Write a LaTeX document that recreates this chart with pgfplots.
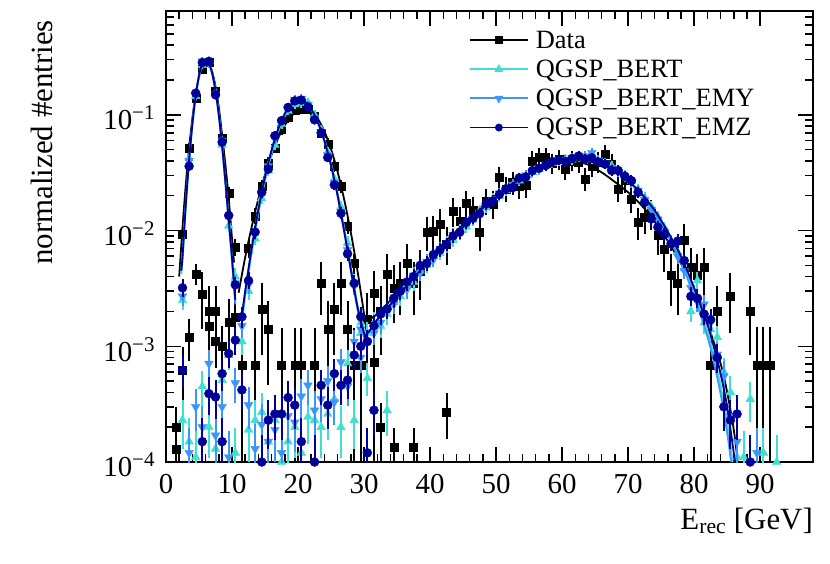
\documentclass[border=0pt]{standalone}
\usepackage{pgfplots}
\pgfplotsset{compat=1.18}
\usepackage{pgfplotstable}
\usepackage{fontspec}
\setmainfont{Liberation Serif}
\definecolor{cQB}{RGB}{64,224,208}
\definecolor{cEMY}{RGB}{60,150,250}
\definecolor{cEMZ}{RGB}{0,0,153}
\newcommand{\ex}[1]{10\raisebox{10bp}{\fontsize{21}{21}\selectfont −#1}}

\pgfplotstableread{
x y e
1.5 2.0e-4 0.8e-4
1.5 1.3e-4 0.6e-4
2.5 0.0093 0.0007
2.5 6.2e-4 3.0e-4
3.5 0.051 0.0018
3.5 0.0012 0.0004
4.5 0.14 0.003
4.5 0.0042 0.0006
5.5 0.25 0.004
5.5 0.0028 0.0013
6.5 0.285 0.0045
6.5 0.0020 0.0011
6.5 0.0015 0.0008
7.5 0.16 0.003
7.5 0.0020 0.0011
7.5 0.0011 0.0004
8.5 0.063 0.002
8.5 0.0010 0.0004
9.5 0.021 0.0012
9.5 0.0016 0.0008
10.5 0.0072 0.0007
10.5 0.0018 0.0009
11.5 6.8e-4 6.7e-4
12.5 0.0070 0.0008
13.5 0.0134 0.0011
13.5 6.8e-4 6.7e-4
14.5 0.024 0.0015
14.5 0.0021 0.0012
15.5 0.038 0.002
15.5 0.0014 0.0009
16.5 0.052 0.0023
17.5 0.075 0.0027
17.5 6.8e-4 6.7e-4
18.5 0.095 0.003
19.5 0.110 0.0033
19.5 6.8e-4 6.7e-4
20.5 0.113 0.0033
20.5 6.8e-4 6.7e-4
21.5 0.112 0.0033
22.5 0.098 0.0031
22.5 6.8e-4 6.7e-4
23.5 0.070 0.0026
23.5 0.0035 0.0015
24.5 0.056 0.0023
24.5 0.0014 0.0009
25.5 0.036 0.0019
25.5 0.0021 0.0012
26.5 0.024 0.0015
26.5 0.0035 0.0015
27.5 0.011 0.001
27.5 0.0014 0.0009
28.5 0.0052 0.0007
28.5 6.8e-4 6.7e-4
29.5 6.8e-4 6.7e-4
30.5 0.0017 0.0010
31.5 0.0029 0.0013
31.5 7.3e-4 7.2e-4
32.5 0.0020 0.0011
32.5 2.0e-4 1.0e-4
33.5 0.0042 0.0017
34.5 0.0032 0.0015
34.5 1.35e-4 0.5e-4
35.5 0.0035 0.0015
36.5 0.0052 0.0019
37.5 0.0035 0.0015
37.5 1.35e-4 0.5e-4
38.5 0.0045 0.0018
39.5 0.0097 0.0026
40.5 0.0099 0.0026
41.5 0.0114 0.0028
42.5 0.0077 0.0023
42.5 2.7e-4 1.0e-4
43.5 0.0148 0.0032
44.5 0.0120 0.0029
45.5 0.0173 0.0034
46.5 0.0150 0.0032
47.5 0.0097 0.0026
48.5 0.0180 0.0035
49.5 0.0170 0.0034
50.5 0.0288 0.0044
51.5 0.0230 0.0040
52.5 0.0260 0.0042
53.5 0.0240 0.0040
54.5 0.0245 0.0041
55.5 0.040 0.0052
56.5 0.043 0.0054
57.5 0.043 0.0054
58.5 0.038 0.0051
59.5 0.041 0.0053
60.5 0.034 0.0048
61.5 0.040 0.0052
62.5 0.039 0.0052
63.5 0.028 0.0044
64.5 0.036 0.0050
65.5 0.039 0.0052
66.5 0.046 0.0056
67.5 0.0376 0.0051
68.5 0.023 0.0040
69.5 0.027 0.0043
70.5 0.0188 0.0036
71.5 0.0117 0.0028
72.5 0.013 0.0030
73.5 0.014 0.0031
74.5 0.0091 0.0025
75.5 0.0069 0.0022
76.5 0.0041 0.0017
77.5 0.0035 0.0015
78.5 0.0082 0.0024
79.5 0.0048 0.0018
80.5 0.0041 0.0017
81.5 0.0048 0.0018
82.5 6.9e-4 6.8e-4
83.5 0.0020 0.0011
85.5 0.0027 0.0013
88.5 0.0020 0.0011
89.5 6.9e-4 6.8e-4
90.5 6.9e-4 6.8e-4
91.5 6.9e-4 6.8e-4
}\tData

\pgfplotstableread{
x y e
2.5 0.0025 0.0003
3.5 0.042 0.0012
4.5 0.145 0.0023
5.5 0.27 0.003
6.5 0.29 0.003
7.5 0.155 0.0023
8.5 0.055 0.0014
9.5 0.011 0.0006
10.5 0.0040 0.0004
2.5 2.3e-4 0.9e-4
3.5 1.5e-4 0.72e-4
4.5 1.1e-4 0.62e-4
5.5 4.5e-4 1.25e-4
6.5 2.0e-4 0.84e-4
7.5 1.3e-4 0.67e-4
8.5 5.1e-4 1.3e-4
9.5 8.4e-4 1.7e-4
10.5 1.2e-4 0.65e-4
12.5 1.9e-4 0.82e-4
13.5 2.3e-4 0.9e-4
14.5 2.7e-4 0.97e-4
15.5 1.5e-4 0.72e-4
16.5 2.3e-4 0.9e-4
17.5 1.0e-4 0.6e-4
18.5 1.5e-4 0.72e-4
19.5 2.0e-4 0.84e-4
20.5 1.2e-4 0.65e-4
21.5 2.45e-4 0.93e-4
22.5 2.3e-4 0.9e-4
23.5 2.0e-4 0.84e-4
24.5 2.6e-4 0.95e-4
25.5 3.5e-4 1.1e-4
26.5 2.0e-4 0.84e-4
27.5 7.1e-4 1.6e-4
28.5 2.3e-4 0.9e-4
29.5 1.3e-3 2.1e-4
30.5 5.3e-4 1.35e-4
33.5 2.8e-4 1.0e-4
11.5 0.0011 0.0002
12.5 0.0030 0.0003
13.5 0.0085 0.0005
14.5 0.019 0.0008
15.5 0.033 0.0011
16.5 0.055 0.0014
17.5 0.083 0.0017
18.5 0.108 0.0019
19.5 0.123 0.0021
20.5 0.126 0.0021
21.5 0.128 0.0021
22.5 0.100 0.0019
23.5 0.074 0.0016
24.5 0.048 0.0013
25.5 0.028 0.001
26.5 0.016 0.00075
27.5 0.0078 0.00052
28.5 0.0036 0.00035
29.5 0.0016 0.00024
30.5 0.0013 0.00021
31.5 0.0016 0.00024
32.5 0.0015 0.00023
33.5 0.0019 0.00026
34.5 0.0024 0.00029
35.5 0.0027 0.00031
36.5 0.0034 0.00034
37.5 0.0036 0.00035
38.5 0.0045 0.0004
39.5 0.0050 0.00042
40.5 0.0060 0.00046
41.5 0.0064 0.00047
42.5 0.0079 0.00053
43.5 0.0083 0.00054
44.5 0.0100 0.00059
45.5 0.0108 0.00061
46.5 0.0124 0.00066
47.5 0.0148 0.00072
48.5 0.0158 0.00074
49.5 0.0188 0.00081
50.5 0.0198 0.00083
51.5 0.0222 0.00088
52.5 0.0245 0.00093
53.5 0.0270 0.00097
54.5 0.0292 0.001
55.5 0.0318 0.00105
56.5 0.0338 0.00109
57.5 0.0360 0.00112
58.5 0.0382 0.00116
59.5 0.0398 0.00118
60.5 0.0412 0.0012
61.5 0.0410 0.0012
62.5 0.0428 0.00122
63.5 0.0421 0.00121
64.5 0.0412 0.0012
65.5 0.0398 0.00118
66.5 0.0382 0.00116
67.5 0.0362 0.00113
68.5 0.0328 0.00107
69.5 0.0302 0.00103
70.5 0.0268 0.00097
71.5 0.0228 0.00089
72.5 0.0192 0.00082
73.5 0.0162 0.00075
74.5 0.0132 0.00068
75.5 0.0105 0.00061
76.5 0.0080 0.00053
77.5 0.0065 0.00048
78.5 0.0047 0.00041
79.5 0.0020 0.00026
80.5 0.0037 0.00036
81.5 0.0016 0.00024
82.5 0.0014 0.00022
83.5 0.0012 0.0002
84.5 6.0e-4 1.45e-4
85.5 4.0e-4 1.2e-4
86.5 1.1e-4 0.62e-4
87.5 1.1e-4 0.62e-4
88.5 3.5e-4 1.1e-4
90.5 1.2e-4 0.65e-4
92.5 1.0e-4 0.6e-4
}\tQB

\pgfplotstableread{
x y e
2.5 0.0027 0.0003
3.5 0.040 0.0012
4.5 0.150 0.0023
5.5 0.29 0.0032
6.5 0.28 0.0031
7.5 0.150 0.0023
8.5 0.060 0.0014
9.5 0.013 0.0007
10.5 0.0035 0.00035
3.5 1.2e-4 0.65e-4
4.5 3.0e-4 1.0e-4
5.5 2.0e-4 0.84e-4
6.5 7.1e-4 1.6e-4
7.5 1.7e-4 0.77e-4
8.5 3.0e-4 1.0e-4
9.5 1.1e-4 0.62e-4
10.5 4.8e-4 1.3e-4
12.5 3.1e-4 1.04e-4
13.5 1.3e-4 0.67e-4
14.5 2.1e-4 0.86e-4
15.5 1.5e-4 0.72e-4
16.5 1.9e-4 0.82e-4
17.5 1.2e-4 0.65e-4
18.5 2.5e-4 0.94e-4
19.5 2.2e-4 0.88e-4
20.5 3.7e-4 1.14e-4
21.5 4.6e-4 1.27e-4
22.5 2.8e-4 1.0e-4
23.5 3.5e-4 1.1e-4
24.5 5.0e-4 1.3e-4
25.5 3.3e-4 1.07e-4
26.5 7.3e-4 1.6e-4
27.5 4.5e-4 1.25e-4
28.5 1.1e-3 1.96e-4
29.5 8.0e-4 1.7e-4
11.5 0.0015 0.00023
12.5 0.0034 0.00034
13.5 0.0095 0.00058
14.5 0.021 0.00086
15.5 0.036 0.0011
16.5 0.062 0.0015
17.5 0.087 0.0017
18.5 0.113 0.002
19.5 0.135 0.0022
20.5 0.138 0.0022
21.5 0.122 0.0021
22.5 0.094 0.0018
23.5 0.071 0.0016
24.5 0.045 0.0013
25.5 0.026 0.00095
26.5 0.0145 0.00071
27.5 0.0068 0.00049
28.5 0.0033 0.00034
29.5 0.0014 0.00022
30.5 0.0011 0.0002
31.5 0.0013 0.00021
32.5 0.0016 0.00024
33.5 0.0021 0.00027
34.5 0.0023 0.00028
35.5 0.0029 0.00032
36.5 0.0031 0.00033
37.5 0.0041 0.00038
38.5 0.0043 0.00039
39.5 0.0054 0.00043
40.5 0.0056 0.00044
41.5 0.0070 0.0005
42.5 0.0074 0.00051
43.5 0.0092 0.00057
44.5 0.0095 0.00058
45.5 0.0115 0.00063
46.5 0.0126 0.00066
47.5 0.0142 0.0007
48.5 0.0163 0.00076
49.5 0.0182 0.0008
50.5 0.0210 0.00086
51.5 0.0225 0.00089
52.5 0.0250 0.00094
53.5 0.0278 0.00099
54.5 0.0300 0.001
55.5 0.0325 0.00107
56.5 0.0350 0.00111
57.5 0.0372 0.00114
58.5 0.0390 0.00117
59.5 0.0410 0.0012
60.5 0.0405 0.00119
61.5 0.0425 0.00122
62.5 0.0435 0.00123
63.5 0.0440 0.00124
64.5 0.0470 0.00128
65.5 0.0405 0.00119
66.5 0.0380 0.00115
67.5 0.0350 0.00111
68.5 0.0320 0.00106
69.5 0.0290 0.00101
70.5 0.0262 0.00096
71.5 0.0220 0.00088
72.5 0.0185 0.0008
73.5 0.0152 0.00073
74.5 0.0125 0.00066
75.5 0.0098 0.00059
76.5 0.0078 0.00052
77.5 0.0060 0.00046
78.5 0.0045 0.0004
79.5 0.0032 0.00033
80.5 0.0024 0.00029
81.5 0.0023 0.00028
82.5 0.0016 0.00024
83.5 8.5e-4 1.7e-4
84.5 5.5e-4 1.4e-4
85.5 2.5e-4 0.94e-4
86.5 1.5e-4 0.72e-4
89.5 1.2e-4 0.65e-4
}\tEMY

\pgfplotstableread{
x y e
2.5 0.0032 0.00033
3.5 0.036 0.0011
4.5 0.154 0.0023
5.5 0.283 0.0031
6.5 0.29 0.0032
7.5 0.149 0.0023
8.5 0.058 0.0014
9.5 0.0135 0.0007
10.5 0.0034 0.00034
2.5 6.2e-4 1.5e-4
5.5 1.5e-4 0.72e-4
6.5 3.9e-4 1.17e-4
7.5 3.65e-4 1.13e-4
8.5 5.8e-4 1.4e-4
8.5 1.5e-4 0.72e-4
9.5 8.65e-4 1.74e-4
10.5 1.13e-3 2.0e-4
11.5 4.2e-4 1.2e-4
14.5 1.0e-4 0.6e-4
15.5 2.3e-4 0.9e-4
16.5 2.6e-4 0.95e-4
17.5 2.6e-4 0.95e-4
18.5 3.6e-4 1.12e-4
19.5 3.1e-4 1.04e-4
20.5 1.5e-4 0.72e-4
22.5 1.0e-4 0.6e-4
23.5 4.6e-4 1.27e-4
24.5 3.1e-4 1.04e-4
25.5 5.8e-4 1.4e-4
26.5 4.6e-4 1.27e-4
27.5 5.1e-4 1.34e-4
28.5 8.4e-4 1.7e-4
29.5 1.0e-3 1.9e-4
30.5 1.2e-4 0.65e-4
31.5 2.8e-4 1.0e-4
11.5 0.0018 0.00025
12.5 0.0037 0.00036
13.5 0.0097 0.00058
14.5 0.0214 0.00087
15.5 0.034 0.0011
16.5 0.066 0.0015
17.5 0.089 0.0018
18.5 0.116 0.002
19.5 0.132 0.0021
20.5 0.134 0.0022
21.5 0.117 0.002
22.5 0.0905 0.0018
23.5 0.070 0.0016
24.5 0.0428 0.0012
25.5 0.0248 0.00093
26.5 0.0141 0.0007
27.5 0.0063 0.00047
28.5 0.0035 0.00035
29.5 0.0018 0.00025
30.5 0.0011 0.0002
31.5 0.0015 0.00023
32.5 0.0019 0.00026
33.5 0.0021 0.00027
34.5 0.0026 0.0003
35.5 0.0030 0.00032
36.5 0.0036 0.00035
37.5 0.0040 0.00037
38.5 0.0050 0.00042
39.5 0.0052 0.00043
40.5 0.0062 0.00047
41.5 0.0068 0.00049
42.5 0.0076 0.00052
43.5 0.0090 0.00056
44.5 0.0097 0.00058
45.5 0.0118 0.00064
46.5 0.0128 0.00067
47.5 0.0140 0.0007
48.5 0.0170 0.00077
49.5 0.0180 0.00079
50.5 0.0205 0.00085
51.5 0.0230 0.0009
52.5 0.0235 0.00091
53.5 0.0285 0.001
54.5 0.0290 0.001
55.5 0.0330 0.00107
56.5 0.0345 0.0011
57.5 0.0365 0.00113
58.5 0.0395 0.00118
59.5 0.0405 0.00119
60.5 0.0395 0.00118
61.5 0.0420 0.00121
62.5 0.0440 0.00124
63.5 0.0415 0.0012
64.5 0.0425 0.00122
65.5 0.0390 0.00117
66.5 0.0375 0.00115
67.5 0.0330 0.00107
68.5 0.0330 0.00107
69.5 0.0295 0.00102
70.5 0.0270 0.00097
71.5 0.0214 0.00087
72.5 0.0175 0.00078
73.5 0.0126 0.00066
74.5 0.0107 0.00061
75.5 0.0093 0.00057
76.5 0.0077 0.00052
77.5 0.0081 0.00053
78.5 0.0055 0.00044
79.5 0.0027 0.00031
80.5 0.0026 0.0003
81.5 0.0019 0.00026
82.5 0.0017 0.00024
83.5 8.0e-4 1.7e-4
84.5 3.0e-4 1.0e-4
85.5 2.3e-4 0.9e-4
86.5 2.6e-4 0.95e-4
88.5 1.0e-4 0.6e-4
}\tEMZ

\pgfplotsset{
  pts/.style={only marks, forget plot,
    error bars/y dir=both, error bars/y explicit,
    error bars/error bar style={line width=2bp, solid},
    error bars/error mark options={line width=2bp, mark size=3.5bp}},
  fit/.style={line width=1.8bp, smooth, tension=0.5, no marks, forget plot},
}

\begin{document}
\begin{tikzpicture}
\path[use as bounding box] (0,0) rectangle (830bp,564bp);
\begin{axis}[
  at={(166bp,102bp)}, anchor=south west,
  scale only axis, width=647bp, height=451bp,
  xmin=0, xmax=98, ymode=log, ymin=1e-4, ymax=0.79,
  clip mode=individual,
  xtick={0,10,...,90}, minor x tick num=4,
  ytick={1e-4,1e-3,1e-2,1e-1},
  yticklabels={\ex{4},\ex{3},\ex{2},\ex{1}},
  minor ytick={2e-4,3e-4,4e-4,5e-4,6e-4,7e-4,8e-4,9e-4,2e-3,3e-3,4e-3,5e-3,6e-3,7e-3,8e-3,9e-3,2e-2,3e-2,4e-2,5e-2,6e-2,7e-2,8e-2,9e-2,0.2,0.3,0.4,0.5,0.6,0.7},
  tick pos=both, tick align=inside,
  major tick length=15bp, minor tick length=8bp,
  every tick/.style={black, line width=1.5bp},
  axis line style={line width=2bp},
  /pgf/number format/assume math mode=true,
  xticklabel style={font=\fontsize{29}{31}\selectfont, yshift=-9bp},
  yticklabel style={font=\fontsize{29}{31}\selectfont, xshift=-8bp, yshift=-3bp},
  xlabel={E\textsubscript{rec} [GeV]},
  xlabel style={font=\fontsize{31}{33}\selectfont, at={(axis description cs:1,0)}, anchor=north east, inner sep=0pt, yshift=-46bp},
  ylabel={normalized \#entries},
  ylabel style={font=\fontsize{31}{33}\selectfont, at={(axis description cs:-0.192,0.98)}, anchor=east, inner sep=0pt},
  legend style={draw=none, fill=none, at={(axis description cs:0.468,0.961)}, anchor=north west,
    font=\fontsize{26.5}{28}\selectfont, row sep=6.2bp, inner sep=0pt},
  legend cell align=left,
  legend image code/.code={\path[draw=none, fill=none] (0bp,0bp) -- (64bp,0bp);\draw[#1, mark indices={2}] plot coordinates {(0bp,0bp) (29bp,0bp) (58bp,0bp)};},
]
\addlegendimage{black, line width=1.8bp, mark=square*, mark size=2.8bp}
\addlegendentry{Data}
\addlegendimage{cQB, line width=1.8bp, mark=triangle*, mark size=3.3bp}
\addlegendentry{QGSP\_BERT}
\addlegendimage{cEMY, line width=1.8bp, mark=triangle*, mark size=3.3bp, mark options={rotate=180}}
\addlegendentry{QGSP\_BERT\_EMY}
\addlegendimage{cEMZ, line width=1.8bp, mark=*, mark size=3bp}
\addlegendentry{QGSP\_BERT\_EMZ}

% Data
\addplot[pts, black, mark=square*, mark size=4bp] table[x=x, y=y, y error=e] {\tData};
\addplot[fit, black] coordinates {(2.0,0.0040)(2.5,0.0106)(3,0.025)(3.5,0.0517)(4,0.094)(4.5,0.151)(5,0.213)(5.5,0.265)(6,0.289)(6.5,0.278)(7,0.236)(7.5,0.176)(8,0.1155)(8.5,0.067)(9,0.037)(9.5,0.019)(10,0.0085)(10.3,0.0053)};
\addplot[fit, black] coordinates {(11,0.0029)(12,0.0059)(13,0.0109)(14,0.0189)(15,0.0304)(16,0.0454)(17,0.063)(18,0.0814)(19,0.0977)(20,0.109)(21,0.113)(22,0.1075)(23,0.0924)(24,0.0718)(25,0.0505)(26,0.0321)(27,0.0184)(28,0.0096)(29,0.0045)(30,0.0019)(30.5,0.0012)};
\addplot[fit, black] coordinates {(30,0.0016)(32,0.0019)(34,0.0025)(36,0.0034)(38,0.0045)(40,0.0059)(42,0.0077)(44,0.0099)(46,0.0129)(48,0.0164)(50,0.0203)(52,0.0245)(54,0.0290)(56,0.0332)(58,0.0372)(60,0.0395)(62,0.0395)(64,0.0370)(66,0.0318)(68,0.0263)(70,0.0214)(72,0.0166)(74,0.0120)(76,0.0081)(78,0.0052)(80,0.0030)(82,0.00158)(84,0.00071)(85,0.00040)(86,0.00019)(86.6,0.0001)};

% QGSP_BERT
\addplot[pts, cQB, mark=triangle*, mark size=5bp] table[x=x, y=y, y error=e] {\tQB};
\addplot[fit, cQB] coordinates {(2.3,0.0042)(2.5,0.0055)(3,0.016)(3.5,0.039)(4,0.081)(4.5,0.142)(5,0.212)(5.5,0.272)(6,0.297)(6.5,0.282)(7,0.232)(7.5,0.166)(8,0.103)(8.5,0.056)(9,0.027)(9.5,0.0125)(10,0.0056)(10.5,0.0024)};
\addplot[fit, cQB] coordinates {(11.5,0.0016)(12,0.0027)(13,0.0065)(14,0.0140)(15,0.0270)(16,0.0465)(17,0.0715)(18,0.0975)(19,0.118)(20,0.128)(21,0.1265)(22,0.111)(23,0.087)(24,0.061)(25,0.038)(26,0.0212)(27,0.0105)(28,0.0049)(29,0.0023)(30,0.00135)(30.5,0.0011)};
\addplot[fit, cQB] coordinates {(30,0.0012)(31,0.0014)(32,0.0017)(34,0.0023)(36,0.0031)(38,0.0042)(40,0.0056)(42,0.0073)(44,0.0094)(46,0.0122)(48,0.0157)(50,0.0196)(52,0.0240)(54,0.0287)(56,0.0335)(58,0.0378)(60,0.0408)(62,0.0424)(64,0.0418)(66,0.0385)(68,0.0333)(70,0.0270)(72,0.0207)(74,0.0145)(76,0.0093)(78,0.0055)(80,0.0029)(82,0.00135)(83,0.00082)(84,0.00046)(85,0.00022)(85.8,0.0001)};

% QGSP_BERT_EMY
\addplot[pts, cEMY, mark=triangle*, mark size=5bp, mark options={rotate=180}] table[x=x, y=y, y error=e] {\tEMY};
\addplot[fit, cEMY] coordinates {(2.3,0.0048)(2.5,0.0062)(3,0.0175)(3.5,0.042)(4,0.086)(4.5,0.150)(5,0.222)(5.5,0.280)(6,0.301)(6.5,0.279)(7,0.225)(7.5,0.158)(8,0.097)(8.5,0.052)(9,0.025)(9.5,0.0118)(10,0.0054)(10.5,0.0023)};
\addplot[fit, cEMY] coordinates {(11.5,0.0018)(12,0.0030)(13,0.0072)(14,0.0155)(15,0.0295)(16,0.0500)(17,0.076)(18,0.1025)(19,0.124)(20,0.134)(21,0.129)(22,0.111)(23,0.0855)(24,0.0588)(25,0.0362)(26,0.0198)(27,0.0097)(28,0.0045)(29,0.0021)(30,0.0012)(30.5,0.0010)};
\addplot[fit, cEMY] coordinates {(30,0.0012)(31,0.0014)(32,0.0017)(34,0.0023)(36,0.0031)(38,0.0042)(40,0.0056)(42,0.0073)(44,0.0094)(46,0.0122)(48,0.0157)(50,0.0196)(52,0.0240)(54,0.0287)(56,0.0335)(58,0.0378)(60,0.0408)(62,0.0424)(64,0.0418)(66,0.0385)(68,0.0333)(70,0.0268)(72,0.0205)(74,0.0142)(76,0.0090)(78,0.0053)(80,0.0027)(82,0.00122)(83,0.00072)(84,0.00039)(85,0.00018)(85.6,0.0001)};

% QGSP_BERT_EMZ
\addplot[pts, cEMZ, mark=*, mark size=4.5bp] table[x=x, y=y, y error=e] {\tEMZ};
\addplot[fit, cEMZ] coordinates {(2.3,0.0045)(2.5,0.0059)(3,0.0168)(3.5,0.0406)(4,0.0834)(4.5,0.146)(5,0.218)(5.5,0.277)(6,0.300)(6.5,0.280)(7,0.228)(7.5,0.162)(8,0.100)(8.5,0.054)(9,0.0265)(9.5,0.0125)(10,0.0058)(10.5,0.0025)};
\addplot[fit, cEMZ] coordinates {(11.5,0.0018)(12,0.0030)(13,0.0071)(14,0.0152)(15,0.029)(16,0.0496)(17,0.0755)(18,0.1025)(19,0.1244)(20,0.135)(21,0.1302)(22,0.1123)(23,0.0865)(24,0.0594)(25,0.0365)(26,0.0200)(27,0.0098)(28,0.0046)(29,0.0022)(30,0.0013)(30.5,0.0011)};
\addplot[fit, cEMZ] coordinates {(30,0.0012)(31,0.0014)(32,0.0017)(34,0.0023)(36,0.0031)(38,0.0042)(40,0.0056)(42,0.0073)(44,0.0094)(46,0.0122)(48,0.0157)(50,0.0196)(52,0.0240)(54,0.0287)(56,0.0335)(58,0.0378)(60,0.0408)(62,0.0424)(64,0.0418)(66,0.0385)(68,0.0333)(70,0.0270)(72,0.0209)(74,0.0150)(76,0.0098)(78,0.0060)(80,0.0032)(82,0.00155)(83,0.00098)(84,0.00058)(85,0.00030)(86,0.00012)(86.2,0.0001)};
\end{axis}
\end{tikzpicture}
\end{document}
